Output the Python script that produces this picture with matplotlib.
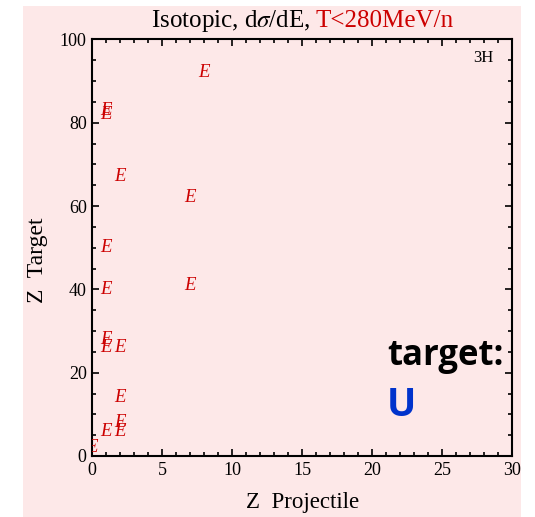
import matplotlib
matplotlib.use("Agg")
import matplotlib.pyplot as plt
from matplotlib.patches import Rectangle
from matplotlib.ticker import MultipleLocator

# projectile / target charge pairs with isotopic dsigma/dE data
z_projectile = [0, 1, 2, 2, 2, 1, 2, 1, 1, 7, 1, 7, 2, 1, 1, 8]
z_target = [2, 6, 6, 8, 14, 26, 26, 28, 40, 41, 50, 62, 67, 82, 83, 92]

title_black = r"Isotopic, d$\sigma$/dE, "
title_red = "T<280MeV/n"
fragment = "3H"
red = "#cc0000"

plt.rcParams["font.family"] = "Liberation Serif"
plt.rcParams["mathtext.fontset"] = "stix"

fig = plt.figure(figsize=(5.35, 5.17), dpi=100)
# pink slide background behind the plot
fig.patches.append(Rectangle((0.043, 0.0), 0.931, 0.989, transform=fig.transFigure,
                             facecolor="#fde8e8", edgecolor="none", zorder=-5))

ax = fig.add_axes([0.1725, 0.118, 0.785, 0.8056])
ax.set_facecolor("none")
ax.set_xlim(0, 30)
ax.set_ylim(0, 100)

for zp, zt in zip(z_projectile, z_target):
    ax.text(zp, zt, "E", color=red, fontsize=13.5, style="italic",
            ha="center", va="center", clip_on=True)

ax.xaxis.set_major_locator(MultipleLocator(5))
ax.xaxis.set_minor_locator(MultipleLocator(1))
ax.yaxis.set_major_locator(MultipleLocator(20))
ax.yaxis.set_minor_locator(MultipleLocator(5))
ax.tick_params(which="both", direction="in", top=True, right=True, width=1.2,
               labelsize=13, colors="black")
ax.tick_params(which="major", length=5, pad=4)
ax.tick_params(which="minor", length=3)
for s in ax.spines.values():
    s.set_linewidth(1.5)

ax.set_xlabel("Z  Projectile", fontsize=16.5)
ax.set_ylabel("Z  Target", fontsize=17)
ax.xaxis.set_label_coords(0.5, -0.086)
ax.yaxis.set_label_coords(-0.105, 0.47)

ax.text(0.955, 0.955, fragment, transform=ax.transAxes, ha="right", va="center",
        fontsize=12)

# two-colour title, centred over the axes
fig.canvas.draw()
r = fig.canvas.get_renderer()
t1 = fig.text(0, 0, title_black, fontsize=18)
t2 = fig.text(0, 0, title_red, fontsize=18, color=red)
w1 = t1.get_window_extent(r).width + 4
w2 = t2.get_window_extent(r).width
x0 = 302.2 - (w1 + w2) / 2
t1.set_position((x0 / 535, 1 - 27.3 / 517))
t2.set_position(((x0 + w1) / 535, 1 - 27.3 / 517))

fig.text(387 / 535, 1 - 365 / 517, "target:", fontsize=25, fontweight="bold",
         family="Open Sans", color="black")
fig.text(387 / 535, 1 - 416 / 517, "U", fontsize=28, fontweight="bold",
         family="Open Sans", color="#0033cc")

fig.savefig("out.png", dpi=100)
